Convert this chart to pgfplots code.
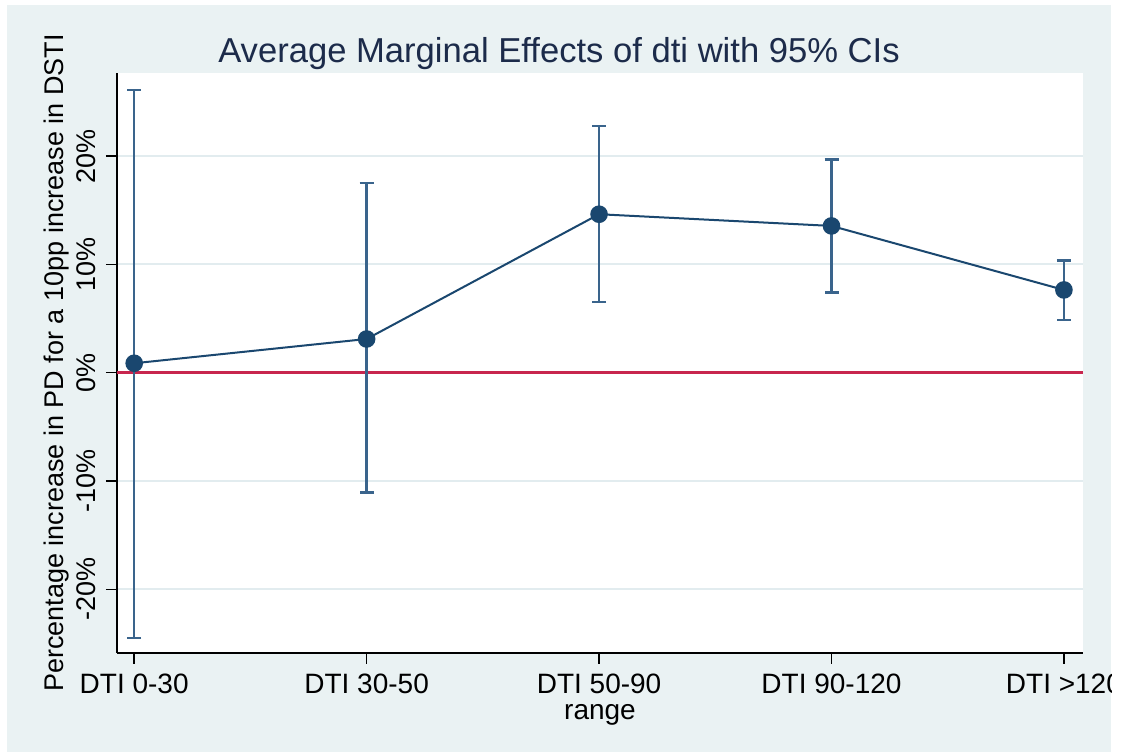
\documentclass[border=0pt]{standalone}
\usepackage{pgfplots}
\pgfplotsset{compat=1.18}
\usepackage{pgfplotstable}
\usepackage{fontspec}
\setmainfont{Liberation Sans}

\definecolor{bgblue}{RGB}{234,242,243}
\definecolor{gridblue}{RGB}{226,236,239}
\definecolor{stnavy}{RGB}{26,71,111}
\definecolor{barnavy}{RGB}{58,100,140}
\definecolor{refred}{RGB}{200,38,78}
\definecolor{titlenavy}{RGB}{28,43,74}

% average marginal effects (in %) with upper / lower distance to the 95% CI bounds
\pgfplotstableread{
x  y      ep     em
0  0.87   25.23  25.34
1  3.11   14.38  14.19
2  14.63  8.17   8.10
3  13.55  6.12   6.13
4  7.64   2.70   2.77
}\margins

\begin{document}
\begin{tikzpicture}
\useasboundingbox (-58.5pt,-50pt) rectangle (502pt,326.5pt);
\fill[white] (-58.5pt,-50pt) rectangle (502pt,326.5pt);
\begin{scope}
\clip (-55pt,-49.5pt) rectangle (497pt,324pt);
\fill[bgblue] (-55pt,-49.5pt) rectangle (497pt,324pt);
\begin{axis}[
  at={(0pt,0pt)}, anchor=south west,
  scale only axis, width=483pt, height=290pt,
  xmin=-0.074, xmax=4.082, ymin=-25.88, ymax=27.67,
  axis background/.style={fill=white},
  axis x line*=bottom, axis y line*=left,
  axis line style={black, line width=0.8pt, -},
  xtick={0,1,2,3,4},
  xticklabels={DTI 0-30, DTI 30-50, DTI 50-90, DTI 90-120, DTI >120},
  ytick={-20,-10,0,10,20},
  yticklabels={-20\%,-10\%,0\%,10\%,20\%},
  tick align=outside, major tick length=5.5pt,
  tick style={black, line width=0.7pt},
  ymajorgrids, grid style={gridblue, line width=1pt},
  xticklabel style={font=\fontsize{14}{16}\selectfont, anchor=base, yshift=-15pt, inner sep=0pt},
  yticklabel style={font=\fontsize{13.5}{16}\selectfont, xshift=-5pt, rotate=90, anchor=base, inner sep=0pt},
  xlabel={range},
  xlabel style={font=\fontsize{14}{16}\selectfont, at={(axis description cs:0.5,-0.114)}, anchor=base, inner sep=0pt},
  ylabel={Percentage increase in PD for a 10pp increase in DSTI},
  ylabel style={font=\fontsize{13.5}{16}\selectfont, at={(axis description cs:-0.0559,0.5)}, anchor=base, rotate=0, inner sep=0pt},
  clip=false,
]
% reference line at zero
\addplot[refred, line width=1.2pt, forget plot] coordinates {(-0.074,0) (4.082,0)};
% 95% confidence intervals
\addplot[only marks, mark=none, forget plot,
  error bars/.cd, y dir=both, y explicit,
  error bar style={barnavy, line width=1.2pt},
  error mark options={barnavy, line width=1.2pt, rotate=90, mark size=3.5pt}]
  table[x=x, y=y, y error plus=ep, y error minus=em]{\margins};
% point estimates
\addplot[stnavy, line width=1pt, mark=*, mark size=3.9pt,
  mark options={fill=stnavy, draw=stnavy}]
  table[x=x, y=y]{\margins};
\end{axis}
\node[anchor=base, text=titlenavy, font=\fontsize{17.3}{20}\selectfont] at (221pt,295pt)
  {Average Marginal Effects of dti with 95\% CIs};
\end{scope}
\end{tikzpicture}
\end{document}
